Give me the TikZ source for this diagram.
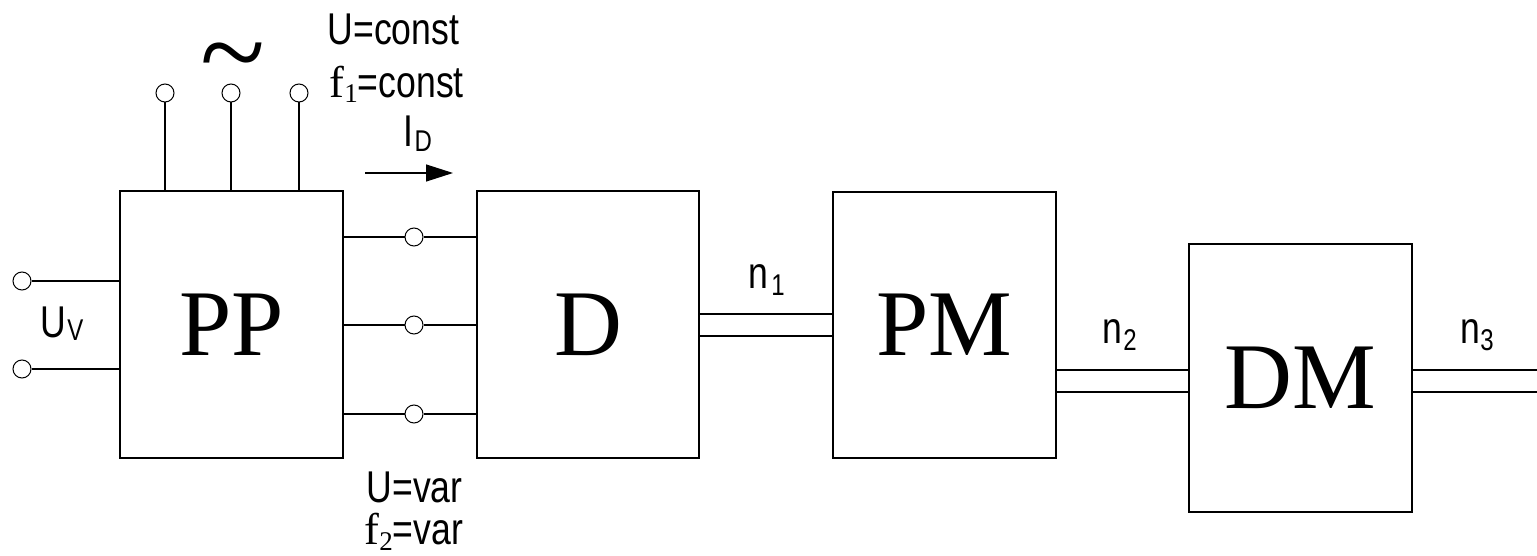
\documentclass[tikz,border=0pt]{standalone}
\usepackage{fontspec}
\setmainfont{Liberation Serif}
\newfontfamily\narrowsf[FakeStretch=0.8]{Liberation Sans}
\usetikzlibrary{arrows.meta}
\newcommand\myLbl{\narrowsf\fontsize{44.5}{50}\selectfont}
\newcommand\mySub{\narrowsf\fontsize{30}{34}\selectfont}
\newcommand\mySerif{\rmfamily\fontsize{44.5}{50}\selectfont}
\newcommand\mySerifSub{\rmfamily\fontsize{27}{30}\selectfont}
\newcommand\myBlock{\rmfamily\fontsize{94}{100}\selectfont}
\begin{document}
\begin{tikzpicture}[x=1pt,y=-1pt,line width=1.3pt,
  blk/.style={draw,inner sep=0pt,font=\myBlock},
  term/.style={circle,draw,fill=white,minimum size=18pt,inner sep=0pt,line width=1pt},
  txt/.style={anchor=base west,inner sep=0pt}]
\useasboundingbox (0,0) rectangle (1537,556);

% blocks
\node[blk,minimum width=223pt,minimum height=267pt] (PP) at (231.5,324.5) {PP};
\node[blk,minimum width=222pt,minimum height=267pt] (D) at (588,324.5) {D};
\node[blk,minimum width=223pt,minimum height=266pt] (PM) at (944.5,325) {PM};
\node[blk,minimum width=223pt,minimum height=268pt] (DM) at (1300.5,378) {DM};

% top terminals
\node[term] (t1) at (165,93) {};
\node[term] (t2) at (231,93) {};
\node[term] (t3) at (299,93) {};
\draw (t1) -- (t1 |- PP.north);
\draw (t2) -- (t2 |- PP.north);
\draw (t3) -- (t3 |- PP.north);
\node[inner sep=0pt,anchor=base] (tl) at (233,93) {\fontsize{120}{120}\selectfont\textasciitilde};

% left terminals
\node[term] (v1) at (22,281) {};
\node[term] (v2) at (22,369) {};
\draw (v1) -- (v1 -| PP.west);
\draw (v2) -- (v2 -| PP.west);

% middle terminals
\node[term] (m1) at (414,237) {};
\node[term] (m2) at (414,325) {};
\node[term] (m3) at (414,414) {};
\draw (PP.east |- m1) -- (m1) -- (D.west |- m1);
\draw (PP.east |- m2) -- (m2) -- (D.west |- m2);
\draw (PP.east |- m3) -- (m3) -- (D.west |- m3);

% shafts
\draw (D.east |- 0,314) -- (PM.west |- 0,314);
\draw (D.east |- 0,336) -- (PM.west |- 0,336);
\draw (PM.east |- 0,370) -- (DM.west |- 0,370);
\draw (PM.east |- 0,392) -- (DM.west |- 0,392);
\coordinate (e3a) at (1537,370);
\coordinate (e3b) at (1537,392);
\draw (DM.east |- e3a) -- (e3a);
\draw (DM.east |- e3b) -- (e3b);

% current arrow
\coordinate (ia) at (365,173);
\coordinate (ib) at (453,173);
\draw[-{Triangle[length=27pt,width=17pt]}] (ia) -- (ib);

% labels
\node[txt] (uc) at (327,45) {\myLbl U=const};
\node[txt] (fc) at (329,98) {\mySerif f\raisebox{-5pt}{\mySerifSub 1}\myLbl=const};
\node[txt] (id) at (403,147) {\myLbl I\hspace{1pt}\raisebox{-5pt}{\mySub D}};
\node[txt] (uv) at (40,337) {\myLbl U\hspace{1pt}\raisebox{-3pt}{\mySub V}};
\node[txt] (n1) at (748,288) {\myLbl n\hspace{3pt}\raisebox{-7pt}{\mySub 1}};
\node[txt] (n2) at (1102,343) {\myLbl n\hspace{1pt}\raisebox{-7pt}{\mySub 2}};
\node[txt] (n3) at (1460,343) {\myLbl n\hspace{0pt}\raisebox{-7pt}{\mySub 3}};
\node[txt] (uvar) at (366,502) {\myLbl U=var};
\node[txt] (fvar) at (364,544) {\mySerif f\raisebox{-6pt}{\mySerifSub 2}\myLbl=var};
\end{tikzpicture}
\end{document}
